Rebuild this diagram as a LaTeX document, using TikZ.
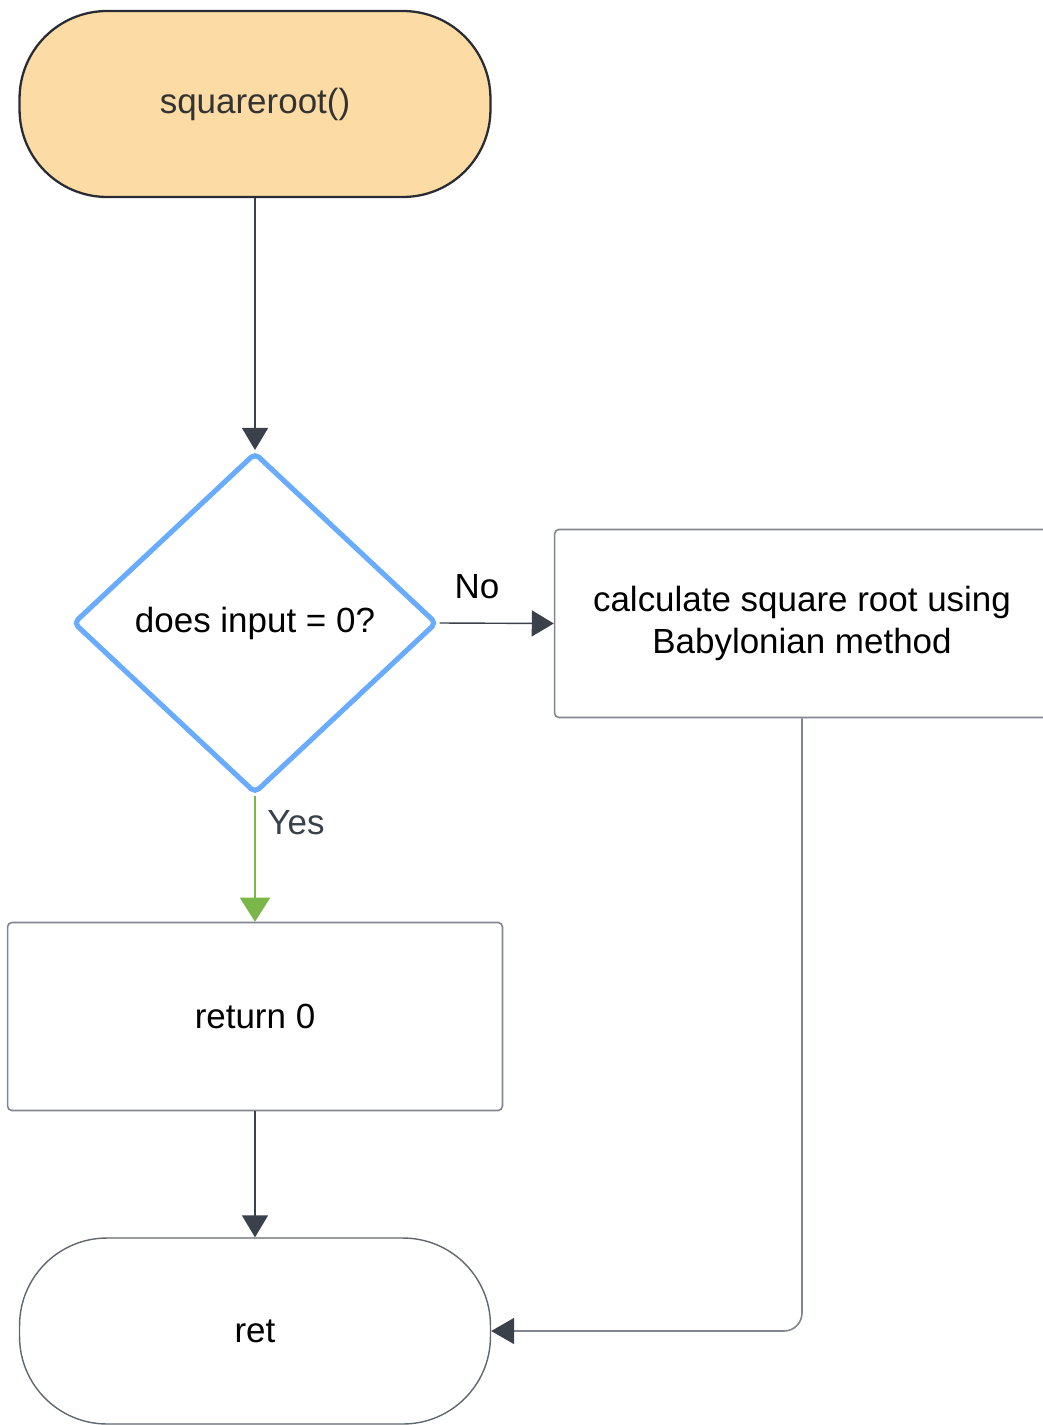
\documentclass[tikz,border=0pt]{standalone}
\usepackage{fontspec}
\setmainfont{Liberation Sans}
\usetikzlibrary{positioning,shapes.geometric,arrows.meta}
\definecolor{startfill}{RGB}{253,219,164}
\definecolor{edgedark}{RGB}{40,44,52}
\definecolor{arrowgray}{RGB}{58,65,74}
\definecolor{boxgray}{RGB}{128,133,143}
\definecolor{decblue}{RGB}{105,172,255}
\definecolor{yesgreen}{RGB}{122,182,72}
\tikzset{
terminal/.style={draw,rounded corners=1.75cm,minimum width=9.42cm,minimum height=3.72cm,inner sep=0pt,align=center},
startterm/.style={terminal,fill=startfill,draw=edgedark,line width=1.3pt,text=black!80},
endterm/.style={terminal,draw=arrowgray!80,line width=0.8pt},
decision/.style={diamond,aspect=1.07,draw=decblue,line width=2.9pt,rounded corners=3pt,
minimum width=7.28cm,minimum height=6.82cm,inner sep=0pt},
process/.style={draw=boxgray,line width=0.9pt,rounded corners=2.5pt,minimum width=9.9cm,minimum height=3.76cm,align=center},
flow/.style={-{Triangle[length=0.44cm,width=0.52cm]},arrowgray,line width=0.8pt},
backflow/.style={-{Triangle[length=0.46cm,width=0.52cm,color=arrowgray]},boxgray,line width=0.9pt,rounded corners=0.36cm},
yesflow/.style={-{Triangle[length=0.48cm,width=0.6cm]},yesgreen,line width=1.1pt},
edgelabel/.style={inner sep=0pt}
}

\begin{document}
\begin{tikzpicture}[x=0.02cm,y=-0.02cm,every node/.style={font=\fontsize{19.9}{23.8}\selectfont}]
\useasboundingbox (0,0) rectangle (1042,1425);
\node[startterm] (start) at (255,104) {squareroot()};
\node[decision] (dec) at (255,623) {does input = 0?};
\node[process] (calc) at (802,623.5) {calculate square root using\\Babylonian method};
\node[process] (zero) at (255,1016.5) {return 0};
\node[endterm] (ret) at (255,1331) {ret};

\draw[flow] (start) -- (dec);
\draw[flow] (dec.east) -- (calc.west);
\node[edgelabel] (no) at (477,587) {No};
\draw[yesflow] (dec.south) -- (zero.north);
\node[edgelabel,text=arrowgray] (yes) at (296,823) {Yes};
\draw[flow] (zero) -- (ret);
% Babylonian branch comes back into ret from the right
\draw[backflow] (calc.south) |- (ret.east);
\end{tikzpicture}
\end{document}
